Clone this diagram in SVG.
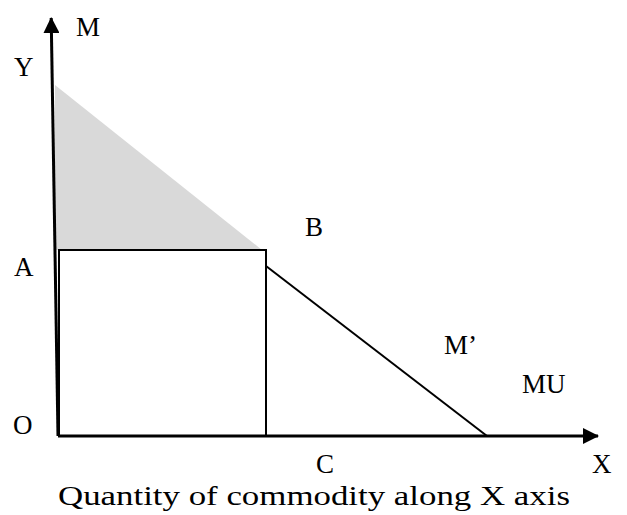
<svg xmlns="http://www.w3.org/2000/svg" width="627" height="515" viewBox="0 0 627 515">
<style>
text{font-family:"Liberation Serif","DejaVu Serif",serif;font-size:27px;fill:#000}
.ln{stroke:#000;fill:none}
</style>
<defs>
<marker id="ah2" markerWidth="16" markerHeight="16" refX="15" refY="8" orient="auto" markerUnits="userSpaceOnUse">
<path d="M0,0 L16,8 L0,16 Z" fill="#000"/>
</marker>
</defs>
<g id="shade"><polygon points="55,85 55,250 262,250" fill="#d9d9d9"/></g>
<g id="connectors">
<line class="ln" x1="58" y1="436" x2="51.2" y2="18" stroke-width="3" marker-end="url(#ah2)"/>
<line class="ln" x1="58" y1="436" x2="598" y2="436" stroke-width="3" marker-end="url(#ah2)"/>
<rect class="ln" x="59" y="250" width="207" height="186" stroke-width="2"/>
<line class="ln" x1="266" y1="266" x2="487" y2="436" stroke-width="2"/>
</g>
<g id="labels">
<text x="76" y="36">M</text>
<text x="14" y="76">Y</text>
<text x="14" y="276">A</text>
<text x="305" y="236">B</text>
<text x="444" y="354">M’</text>
<text x="522" y="393">MU</text>
<text x="13" y="434">O</text>
<text x="316" y="473">C</text>
<text x="592" y="473">X</text>
<text x="58" y="505" textLength="512" lengthAdjust="spacingAndGlyphs">Quantity of commodity along X axis</text>
</g>
</svg>
